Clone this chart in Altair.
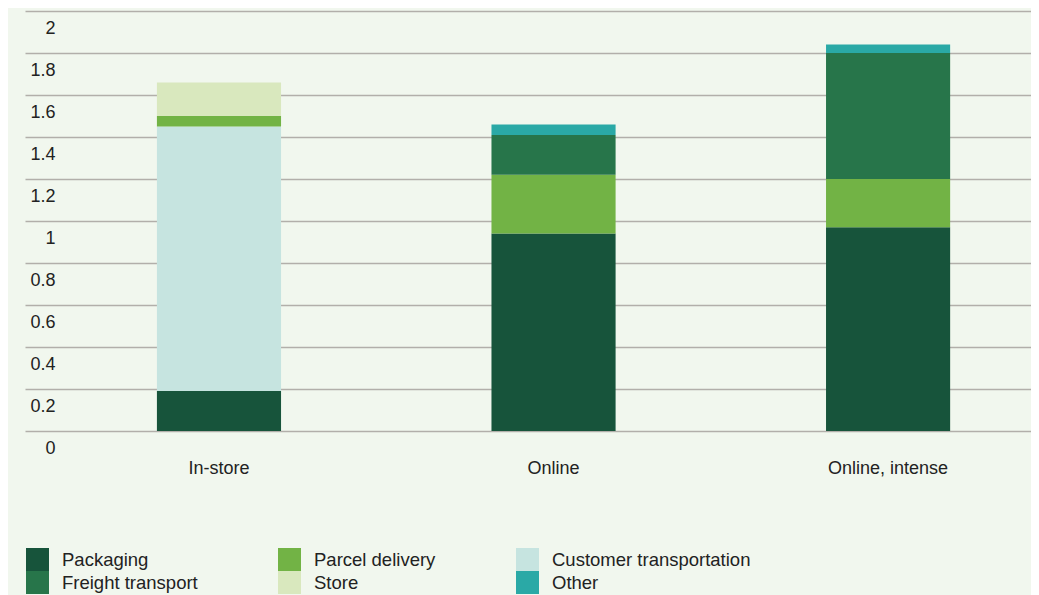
import altair as alt
import pandas as pd

categories = ["In-store", "Online", "Online, intense"]

packaging = [0.19, 0.94, 0.97]
customer_transportation = [1.26, 0.0, 0.0]
parcel_delivery = [0.05, 0.28, 0.23]
freight_transport = [0.0, 0.19, 0.60]
store = [0.16, 0.0, 0.0]
other = [0.0, 0.05, 0.04]

y_ticks = [0, 0.2, 0.4, 0.6, 0.8, 1.0, 1.2, 1.4, 1.6, 1.8, 2.0]

# legend order (filled column by column, 2 rows x 3 columns)
legend_order = ["Packaging", "Freight transport", "Parcel delivery", "Store",
                "Customer transportation", "Other"]
legend_colors = ["#17543B", "#27754A", "#72B345", "#D9E8BE", "#C6E4E0", "#2AA9A6"]

# stacking order, bottom to top
stack_order = ["Packaging", "Customer transportation", "Parcel delivery",
               "Freight transport", "Store", "Other"]

series_values = {
    "Packaging": packaging,
    "Customer transportation": customer_transportation,
    "Parcel delivery": parcel_delivery,
    "Freight transport": freight_transport,
    "Store": store,
    "Other": other,
}

rows = []
for name in stack_order:
    for cat, v in zip(categories, series_values[name]):
        if v > 0:
            rows.append({"category": cat, "series": name, "value": v,
                         "rank": stack_order.index(name)})
df = pd.DataFrame(rows)

FONT = "Liberation Sans"
TEXT = "#222222"

chart = alt.Chart(df).mark_bar().encode(
    x=alt.X(
        "category:N", sort=categories,
        scale=alt.Scale(paddingInner=0.629, paddingOuter=0.318, align=0.62),
        axis=alt.Axis(title=None, labelAngle=0, domain=False, ticks=False, tickSize=0,
                      labelPadding=28, labelFontSize=18, labelColor=TEXT, labelFont=FONT,
                      grid=False),
    ),
    y=alt.Y(
        "value:Q", stack="zero",
        scale=alt.Scale(domain=[0, 2], nice=False),
        axis=alt.Axis(title=None, values=y_ticks, format="~g", domain=False, ticks=False,
                      tickSize=0, labelPadding=-30, labelAlign="right", labelBaseline="middle",
                      labelOffset=17, grid=True, gridColor="#B2AFAA", gridWidth=1.5,
                      labelFontSize=18, labelColor=TEXT, labelFont=FONT),
    ),
    color=alt.Color(
        "series:N",
        scale=alt.Scale(domain=legend_order, range=legend_colors),
        legend=alt.Legend(title=None, orient="none", legendX=1, legendY=537, columns=3,
                          symbolType="square", symbolSize=529, symbolStrokeWidth=0,
                          symbolOpacity=1, labelFontSize=18.5, labelOffset=13,
                          labelLimit=400, columnPadding=80, rowPadding=0, padding=0,
                          labelFont=FONT, labelColor=TEXT),
    ),
    order=alt.Order("rank:Q", sort="ascending"),
).properties(
    width=1006, height=420, autosize="none",
    padding={"left": 17, "top": 3, "right": 0, "bottom": 164},
).configure(background="#F1F7EE").configure_view(stroke=None)

chart.save("out.html", embed_options={"renderer": "svg", "actions": False})
